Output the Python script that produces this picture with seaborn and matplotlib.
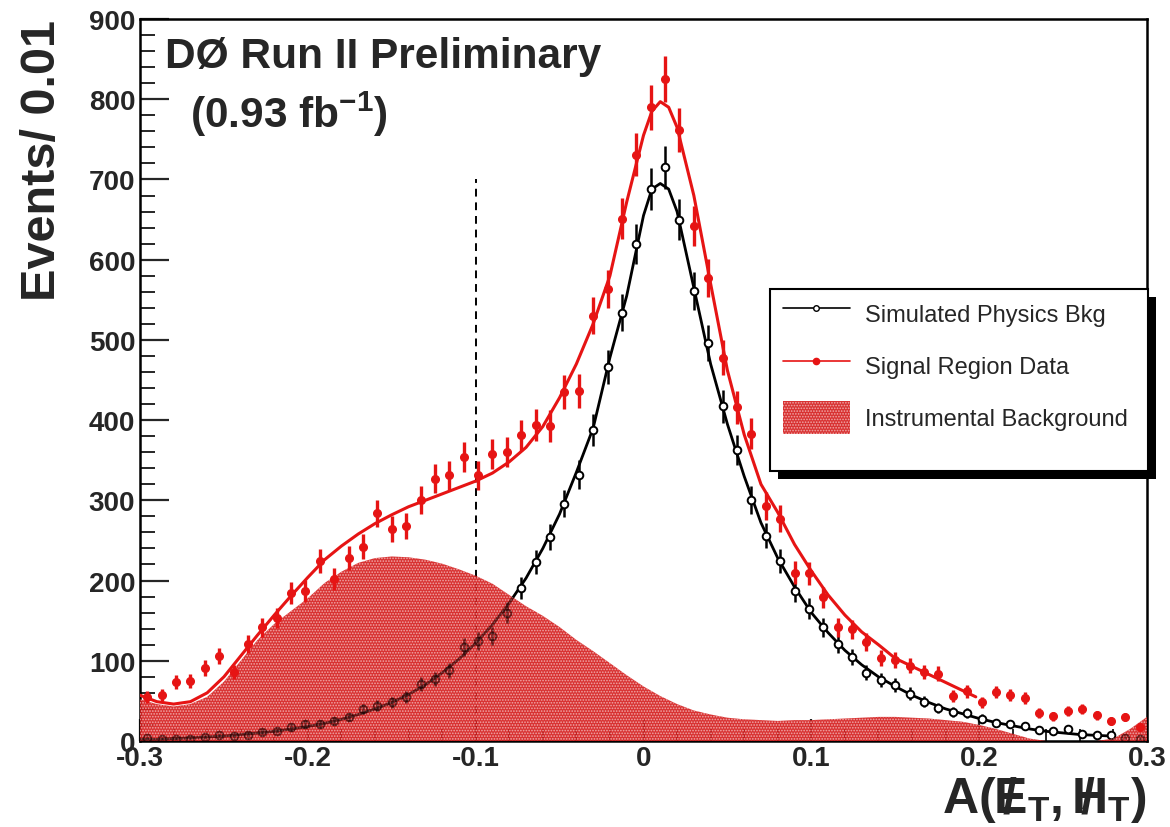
import numpy as np
import matplotlib
matplotlib.use("Agg")
import matplotlib.pyplot as plt
import seaborn as sns
from matplotlib.lines import Line2D
from matplotlib.patches import Patch, Rectangle
from matplotlib.ticker import MultipleLocator

# --- data ---
n_bins = 70
x_lo, x_hi = -0.3, 0.3

# signal region data (red points), one value per bin
data_counts = [55, 57, 74, 75, 91, 106, 86, 121, 142, 153,
               184, 187, 224, 202, 228, 242, 284, 264, 268, 300,
               327, 331, 354, 331, 358, 360, 381, 394, 393, 435,
               436, 530, 564, 651, 731, 790, 825, 762, 642, 577,
               478, 416, 383, 293, 277, 210, 209, 179, 142, 139,
               123, 103, 101, 94, 86, 84, 56, 62, 48, 61,
               57, 54, 35, 31, 37, 40, 32, 25, 30, 17]

# simulated physics background (black open circles)
mc_counts = [4, 3, 3, 3, 5, 7, 6, 8, 11, 13,
             17, 21, 21, 25, 30, 40, 44, 48, 55, 71,
             77, 88, 117, 125, 131, 160, 191, 223, 254, 296,
             332, 388, 466, 534, 620, 688, 715, 650, 561, 496,
             417, 363, 300, 256, 224, 187, 165, 142, 121, 105,
             85, 76, 70, 59, 49, 41, 36, 35, 28, 22,
             21, 19, 14, 13, 15, 9, 8, 8, 4, 3]

# fitted curves
red_fit_x = [-0.30, -0.29, -0.28, -0.27, -0.26, -0.25, -0.24, -0.23, -0.22, -0.21,
             -0.20, -0.19, -0.18, -0.17, -0.16, -0.15, -0.14, -0.13, -0.12, -0.11,
             -0.10, -0.09, -0.08, -0.07, -0.06, -0.05, -0.04, -0.03, -0.02, -0.01,
             0.0, 0.005, 0.01, 0.015, 0.02,
             0.03, 0.04, 0.05, 0.06, 0.07, 0.08, 0.09, 0.10, 0.11, 0.12,
             0.13, 0.14, 0.15, 0.16, 0.17, 0.18, 0.19, 0.198]
red_fit_y = [57, 49, 46, 49, 60, 80, 106, 132, 157, 181,
             204, 226, 243, 258, 271, 282, 292, 300, 308, 316,
             324, 334, 348, 366, 392, 428, 470, 520, 580, 672,
             755, 785, 797, 790, 765,
             680, 570, 462, 382, 320, 285, 245, 212, 182, 157,
             136, 120, 103, 93, 83, 73, 63, 55]

mc_fit_x = [-0.30, -0.29, -0.28, -0.27, -0.26, -0.25, -0.24, -0.23, -0.22, -0.21,
            -0.20, -0.19, -0.18, -0.17, -0.16, -0.15, -0.14, -0.13, -0.12, -0.11,
            -0.10, -0.09, -0.08, -0.07, -0.06, -0.05, -0.04, -0.03, -0.02, -0.01,
            0.0, 0.005, 0.01, 0.015, 0.02,
            0.03, 0.04, 0.05, 0.06, 0.07, 0.08, 0.09, 0.10, 0.11, 0.12,
            0.13, 0.14, 0.15, 0.16, 0.17, 0.18, 0.19, 0.20, 0.21, 0.22,
            0.23, 0.24, 0.25, 0.26, 0.27, 0.28]
mc_fit_y = [2, 2, 3, 4, 5, 6, 8, 10, 12, 15,
            18, 22, 27, 33, 40, 48, 58, 70, 85, 102,
            122, 145, 172, 203, 240, 283, 335, 390, 478, 555,
            655, 688, 695, 688, 660,
            565, 470, 395, 330, 272, 228, 192, 160, 135, 113,
            95, 80, 68, 57, 48, 40, 34, 28, 23, 19,
            15, 12, 10, 8, 7, 6]

# instrumental background shape
instr_x = [round(-0.30 + 0.01 * i, 2) for i in range(61)]
instr_y = [52, 46, 43, 46, 55, 74, 100, 126, 146, 162,
           178, 197, 211, 222, 228, 230, 229, 226, 221, 214,
           206, 196, 182, 168, 156, 142, 126, 112, 97, 82,
           68, 56, 46, 38, 33, 29, 27, 26, 25, 26,
           26, 27, 28, 29, 30, 30, 29, 28, 26, 24,
           20, 15, 9, 3, 0, 0, 0, 0, 3, 15, 30]

cut_value = -0.1
cut_height = 700

x_ticks = [-0.3, -0.2, -0.1, 0.0, 0.1, 0.2, 0.3]
x_tick_labels = ['-0.3', '-0.2', '-0.1', '0', '0.1', '0.2', '0.3']

RED = '#e61414'
FILL = '#d41c1c'
DOTS = '#f2b4b4'

# --- style ---
sns.set_theme(style='white')
plt.rcParams['font.family'] = ['Liberation Sans', 'DejaVu Sans']
plt.rcParams['axes.unicode_minus'] = False
plt.rcParams['mathtext.fontset'] = 'custom'
plt.rcParams['mathtext.rm'] = 'Liberation Sans:bold'
plt.rcParams['mathtext.it'] = 'Liberation Sans:bold'
plt.rcParams['mathtext.bf'] = 'Liberation Sans:bold'
plt.rcParams['hatch.linewidth'] = 0.8

edges = np.linspace(x_lo, x_hi, n_bins + 1)
centers = 0.5 * (edges[:-1] + edges[1:])
data_counts = np.array(data_counts)
mc_counts = np.array(mc_counts)

fig = plt.figure(figsize=(11.7, 8.28), dpi=100)
ax = fig.add_axes([0.1197, 0.1039, 0.8606, 0.8719])


def draw_mc(z, alpha=1.0, face='white'):
    sns.lineplot(x=mc_fit_x, y=mc_fit_y, ax=ax, color='black', linewidth=2, zorder=z,
                 legend=False, alpha=alpha)
    line = ax.lines[-1]
    eb = ax.errorbar(centers, mc_counts, yerr=np.sqrt(mc_counts), fmt='o', ms=5.5, mfc=face,
                     mec='black', mew=1.4, ecolor='black', elinewidth=1.8, capsize=0,
                     zorder=z + 0.1, alpha=alpha)
    return [line, eb[0]] + list(eb[2])


# black MC fit + points, dashed cut line
draw_mc(2)
ax.vlines(cut_value, 0, cut_height, colors='black', linestyles=(0, (4, 3)), linewidth=1.4, zorder=3)

# instrumental background, dotted fill (ROOT style pattern)
fill = ax.fill_between(instr_x, instr_y, 0, facecolor=FILL, edgecolor=DOTS, hatch='......',
                       linewidth=0, alpha=0.9, zorder=4)
# let the MC show through the pattern a little, as in the original
fill_path = fill.get_paths()[0]
for art in draw_mc(4.3, alpha=0.45, face='none'):
    art.set_clip_path(fill_path, ax.transData)

# signal region fit + data
sns.lineplot(x=red_fit_x, y=red_fit_y, ax=ax, color=RED, linewidth=2.2, zorder=5, legend=False)
ax.errorbar(centers, data_counts, yerr=np.sqrt(data_counts), fmt='o', ms=5.5, mfc=RED,
            mec=RED, ecolor=RED, elinewidth=2.4, capsize=0, zorder=6)

ax.set_xlim(x_lo, x_hi)
ax.set_ylim(0, 900)
ax.set_xticks(x_ticks)
ax.set_xticklabels(x_tick_labels)
ax.xaxis.set_minor_locator(MultipleLocator(0.02))
ax.yaxis.set_major_locator(MultipleLocator(100))
ax.yaxis.set_minor_locator(MultipleLocator(20))
ax.tick_params(axis='x', which='major', direction='in', length=16, width=1.6, pad=3,
               labelsize=20, bottom=True, top=False)
ax.tick_params(axis='x', which='minor', direction='in', length=8.5, width=1.4, bottom=True, top=False)
ax.tick_params(axis='y', which='major', direction='in', length=21, width=1.6, pad=3.5,
               labelsize=20, left=True, right=False)
ax.tick_params(axis='y', which='minor', direction='in', length=11, width=1.4, left=True, right=False)
for lab in ax.get_xticklabels() + ax.get_yticklabels():
    lab.set_fontweight('bold')
for sp in ax.spines.values():
    sp.set_color('black')
    sp.set_linewidth(1.8)

# texts
ax.text(0.025, 0.9335, 'DØ Run II Preliminary', transform=ax.transAxes, fontsize=30.5,
        fontweight='bold', va='baseline', ha='left')
ax.text(0.0496, 0.850, r'(0.93 fb$^{-1}$)', transform=ax.transAxes, fontsize=30.5,
        fontweight='bold', va='baseline', ha='left')
fig.text(0.036, 0.976, 'Events/ 0.01', rotation=90, fontsize=35, fontweight='bold',
         ha='center', va='top')
fig.text(0.98, 0.034, r'$A(\,/\!\!\!E_{T},\,/\!\!\!H_{T})$',
         fontsize=36, ha='right', va='center')

# legend: frame and shadow drawn by hand, entries through ax.legend
lx0, ly0, lx1, ly1 = 0.6256, 0.3744, 1.001, 0.626
ax.add_patch(Rectangle((lx0 + 0.008, ly0 - 0.011), lx1 - lx0, ly1 - ly0, transform=ax.transAxes,
                       facecolor='black', edgecolor='none', zorder=7, clip_on=False))
ax.add_patch(Rectangle((lx0, ly0), lx1 - lx0, ly1 - ly0, transform=ax.transAxes,
                       facecolor='white', edgecolor='black', linewidth=1.5, zorder=7.5, clip_on=False))
handles = [Line2D([], [], color='black', lw=1.2, marker='o', ms=4, mfc='white', mec='black'),
           Line2D([], [], color=RED, lw=1.2, marker='o', ms=4.5, mfc=RED, mec=RED),
           Patch(facecolor=FILL, edgecolor=DOTS, hatch='......', linewidth=0, alpha=0.9)]
labels = ['Simulated Physics Bkg', 'Signal Region Data', 'Instrumental Background']
leg = ax.legend(handles, labels, loc='upper left', bbox_to_anchor=(0.6385, 0.616),
                frameon=False, fontsize=17, handlelength=2.84, handleheight=1.8,
                handletextpad=0.64, labelspacing=0.8, borderpad=0, borderaxespad=0)
leg.set_zorder(8)

fig.savefig('out.png', dpi=100, facecolor='white')
